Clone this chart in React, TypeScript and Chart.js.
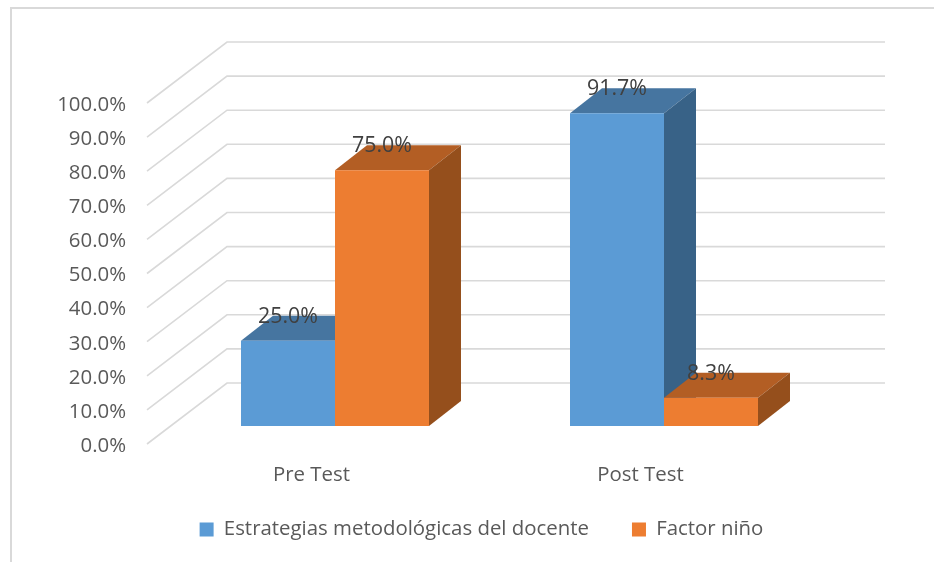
import React, { useEffect, useRef } from "react";
import { Chart, registerables } from "chart.js";

Chart.register(...registerables);

const categories = ["Pre Test", "Post Test"];
const docente = [25.0, 91.7];
const nino = [75.0, 8.3];
const seriesNames = ["Estrategias metodológicas del docente", "Factor niño"];

const FONT = "'Open Sans', sans-serif";
const TICK = "#595959";
const GRID = "#d9d9d9";
const WALL_DX = 80;
const WALL_DY = 61;
const BAR_SHIFT_X = 23.5;
const BAR_SHIFT_Y = 18;
const DEPTH_X = 32;
const DEPTH_Y = 25;
const faces = [
  { top: "#4675a0", side: "#386287" },
  { top: "#b35e24", side: "#954f1c" },
];

const poly = (ctx: CanvasRenderingContext2D, pts: number[][], fill: string) => {
  ctx.fillStyle = fill;
  ctx.beginPath();
  pts.forEach(([x, y], i) => (i ? ctx.lineTo(x, y) : ctx.moveTo(x, y)));
  ctx.closePath();
  ctx.fill();
};

const bars3d = {
  id: "bars3d",
  afterDatasetsUpdate(chart: any) {
    chart.data.datasets.forEach((_: any, i: number) => {
      chart.getDatasetMeta(i).data.forEach((b: any) => {
        b.x += BAR_SHIFT_X;
        b.y -= BAR_SHIFT_Y;
        b.base -= BAR_SHIFT_Y;
      });
    });
  },
  afterLayout(chart: any) {
    const l = chart.legend;
    const w = l.right - l.left;
    l.left = 481.5 - w / 2;
    l.right = 481.5 + w / 2;
    const h = l.bottom - l.top;
    l.top = 513 - h / 2;
    l.bottom = 513 + h / 2;
  },
  beforeDatasetsDraw(chart: any) {
    const ctx: CanvasRenderingContext2D = chart.ctx;
    const { left, right } = chart.chartArea;
    const y = chart.scales.y;
    ctx.save();
    ctx.strokeStyle = GRID;
    ctx.lineWidth = 1.6;
    y.ticks.forEach((t: any) => {
      const py = y.getPixelForValue(t.value);
      ctx.beginPath();
      ctx.moveTo(left, py);
      ctx.lineTo(left + WALL_DX, py - WALL_DY);
      ctx.lineTo(right + WALL_DX, py - WALL_DY);
      ctx.stroke();
    });
    chart.data.datasets.forEach((_: any, i: number) => {
      chart.getDatasetMeta(i).data.forEach((b: any) => {
        const x0 = b.x - b.width / 2;
        const x1 = b.x + b.width / 2;
        poly(ctx, [[x0, b.y], [x1, b.y], [x1 + DEPTH_X, b.y - DEPTH_Y], [x0 + DEPTH_X, b.y - DEPTH_Y]], faces[i].top);
        poly(ctx, [[x1, b.y], [x1 + DEPTH_X, b.y - DEPTH_Y], [x1 + DEPTH_X, b.base - DEPTH_Y], [x1, b.base]], faces[i].side);
      });
    });
    ctx.restore();
  },
  afterDatasetsDraw(chart: any) {
    const ctx: CanvasRenderingContext2D = chart.ctx;
    ctx.save();
    ctx.font = `21.4px ${FONT}`;
    ctx.fillStyle = "#404040";
    ctx.textAlign = "center";
    ctx.textBaseline = "middle";
    chart.data.datasets.forEach((d: any, i: number) => {
      chart.getDatasetMeta(i).data.forEach((b: any, j: number) => {
        ctx.fillText(d.data[j].toFixed(1) + "%", b.x, b.y - 24);
      });
    });
    ctx.restore();
  },
};

export default function App() {
  const ref = useRef<HTMLCanvasElement>(null);
  useEffect(() => {
    const chart = new Chart(ref.current!, {
      type: "bar",
      data: {
        labels: categories,
        datasets: [
          { label: seriesNames[0], data: docente, backgroundColor: "#5b9bd5", clip: false },
          { label: seriesNames[1], data: nino, backgroundColor: "#ed7d31", clip: false },
        ],
      },
      options: {
        responsive: false,
        animation: false,
        events: [],
        layout: { padding: { left: 0, right: 129, top: 103, bottom: 0 } },
        datasets: { bar: { barPercentage: 1, categoryPercentage: 0.5714 } },
        scales: {
          x: {
            grid: { display: false, drawTicks: false },
            border: { display: false },
            ticks: { color: TICK, font: { family: FONT, size: 20.4 }, padding: 19, maxRotation: 0 },
            afterFit(s: any) {
              s.height = 118 - s.chart.legend.height;
            },
          },
          y: {
            min: 0,
            max: 100,
            grid: { display: false, drawTicks: false },
            border: { display: false },
            ticks: {
              stepSize: 10,
              color: TICK,
              font: { family: FONT, size: 20.4 },
              padding: 21,
              labelOffset: 2,
              callback: (v: any) => Number(v).toFixed(1) + "%",
            },
            afterFit(s: any) {
              s.width = 147;
            },
          },
        },
        plugins: {
          title: { display: false },
          tooltip: { enabled: false },
          legend: {
            position: "bottom",
            labels: {
              boxWidth: 14,
              boxHeight: 14,
              padding: 43,
              color: TICK,
              font: { family: FONT, size: 20.4 },
            },
          },
        },
      },
      plugins: [bars3d],
    } as any);
    return () => chart.destroy();
  }, []);
  return (
    <div style={{ position: "fixed", left: 0, top: 0, width: 934, height: 562, background: "#fff", overflow: "hidden" }}>
      <canvas ref={ref} width={934} height={562} style={{ display: "block", filter: "blur(0.4px)" }} />
      <div
        style={{
          position: "absolute",
          left: 10,
          top: 7,
          right: 0,
          bottom: 0,
          borderTop: "2px solid #d9d9d9",
          borderLeft: "2px solid #d9d9d9",
          pointerEvents: "none",
        }}
      />
    </div>
  );
}
